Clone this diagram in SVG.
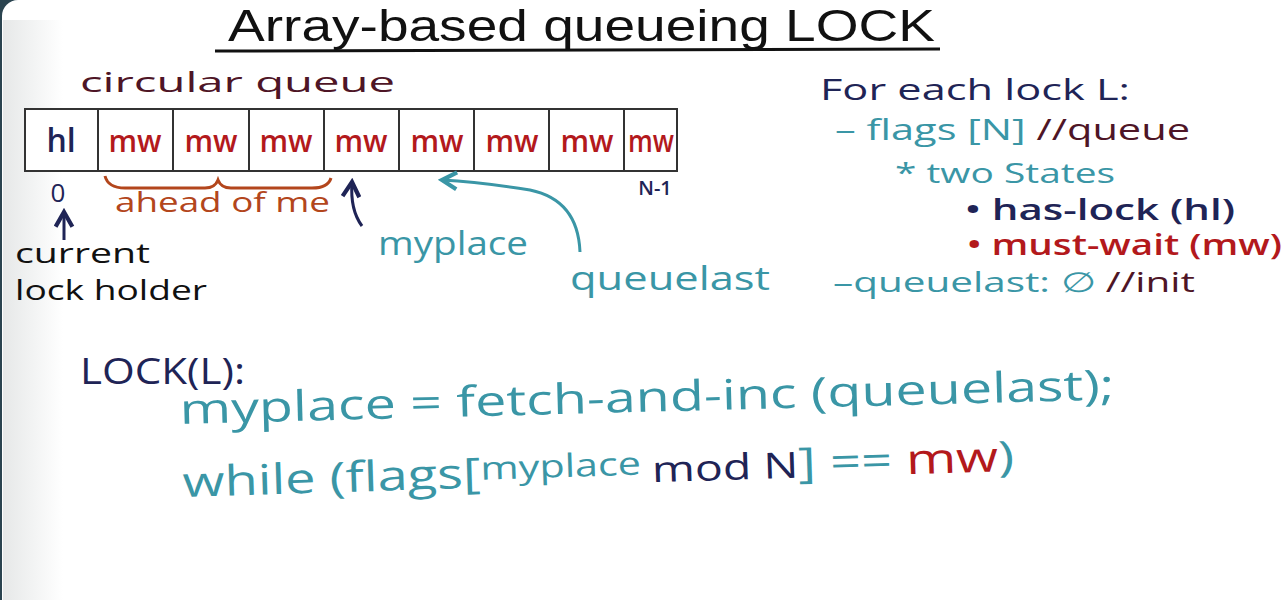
<svg xmlns="http://www.w3.org/2000/svg" width="1282" height="600" viewBox="0 0 1282 600">
<defs>
<style>
text{font-family:"Open Sans","Liberation Sans",sans-serif;}
.navy{fill:#1f2456;}
.red{fill:#b3191c;}
.teal{fill:#3a96a6;}
.maroon{fill:#4e1526;}
.brown{fill:#b3461c;}
.blk{fill:#111;}
.cell{fill:#fff;stroke:#333;stroke-width:2;}
.mw{font-size:30px;fill:#b3191c;font-weight:600;}
</style>
<linearGradient id="edge" x1="0" x2="1" y1="0" y2="0">
<stop offset="0" stop-color="#e6e8e8"/>
<stop offset="1" stop-color="#ffffff"/>
</linearGradient>
<marker id="ahNavy" viewBox="0 0 10 10" refX="8" refY="5" markerWidth="7" markerHeight="7" orient="auto">
<path d="M1,1 L8,5 L1,9" fill="none" stroke="#1f2456" stroke-width="2"/>
</marker>
<marker id="ahTeal" viewBox="0 0 10 10" refX="8" refY="5" markerWidth="7" markerHeight="7" orient="auto">
<path d="M1,1 L8,5 L1,9" fill="none" stroke="#3a96a6" stroke-width="2"/>
</marker>
</defs>
<rect x="0" y="0" width="1282" height="600" fill="#2b4450"/>
<rect x="2" y="0" width="1300" height="640" rx="16" fill="#fff"/>
<rect x="3" y="20" width="60" height="600" fill="url(#edge)"/>

<g id="title">
<text x="228" y="41" font-size="44" class="blk" style="font-family:'Liberation Sans',sans-serif" textLength="707" lengthAdjust="spacingAndGlyphs">Array-based queueing LOCK</text>
<line x1="215" y1="51" x2="940" y2="49" stroke="#111" stroke-width="3"/>
</g>

<g id="label-circular">
<text x="80" y="92" font-size="28" class="maroon" textLength="315" lengthAdjust="spacingAndGlyphs">circular queue</text>
</g>

<g id="array">
<rect class="cell" x="25" y="109" width="652" height="62"/>
<g stroke="#333" stroke-width="2">
<line x1="98" y1="109" x2="98" y2="171"/>
<line x1="173" y1="109" x2="173" y2="171"/>
<line x1="249" y1="109" x2="249" y2="171"/>
<line x1="324" y1="109" x2="324" y2="171"/>
<line x1="399" y1="109" x2="399" y2="171"/>
<line x1="474" y1="109" x2="474" y2="171"/>
<line x1="549" y1="109" x2="549" y2="171"/>
<line x1="624" y1="109" x2="624" y2="171"/>
</g>
<text x="61" y="152" font-size="32" class="navy" text-anchor="middle" font-weight="600">hl</text>
<text x="135" y="152" class="mw" text-anchor="middle">mw</text>
<text x="211" y="152" class="mw" text-anchor="middle">mw</text>
<text x="286" y="152" class="mw" text-anchor="middle">mw</text>
<text x="361" y="152" class="mw" text-anchor="middle">mw</text>
<text x="437" y="152" class="mw" text-anchor="middle">mw</text>
<text x="512" y="152" class="mw" text-anchor="middle">mw</text>
<text x="587" y="152" class="mw" text-anchor="middle">mw</text>
<text x="651" y="152" class="mw" text-anchor="middle" textLength="46" lengthAdjust="spacingAndGlyphs">mw</text>
</g>

<g id="index-0">
<text x="58" y="202" font-size="26" class="navy" text-anchor="middle">0</text>
</g>
<g id="index-n1">
<text x="655" y="195" font-size="20" class="navy" text-anchor="middle" font-weight="600">N-1</text>
</g>

<g id="current-lock-holder">
<text x="15" y="263" font-size="28" class="blk" textLength="135" lengthAdjust="spacingAndGlyphs">current</text>
<text x="15" y="300" font-size="28" class="blk" textLength="192" lengthAdjust="spacingAndGlyphs">lock holder</text>
</g>

<g id="ahead-of-me">
<path d="M105,176 Q108,188 125,188 L205,188 Q215,188 218,180 Q221,188 231,188 L312,188 Q328,188 331,178" fill="none" stroke="#b3461c" stroke-width="3"/>
<text x="115" y="212" font-size="28" class="brown" textLength="215" lengthAdjust="spacingAndGlyphs">ahead of me</text>
</g>

<g id="myplace-label">
<text x="378" y="255" font-size="32" class="teal" textLength="150" lengthAdjust="spacingAndGlyphs">myplace</text>
</g>
<g id="queuelast-label">
<text x="570" y="290" font-size="32" class="teal" textLength="200" lengthAdjust="spacingAndGlyphs">queuelast</text>
</g>

<g id="connectors" fill="none" stroke-width="3">
<line x1="64" y1="240" x2="64" y2="212" stroke="#1f2456" marker-end="url(#ahNavy)"/>
<path d="M362,226 Q350,210 352,182" stroke="#1f2456" marker-end="url(#ahNavy)"/>
<path d="M580,252 Q578,200 530,190 Q480,182 442,180" stroke="#3a96a6" marker-end="url(#ahTeal)"/>
</g>

<g id="for-each-lock">
<text x="820" y="100" font-size="30" class="navy" textLength="310" lengthAdjust="spacingAndGlyphs">For each lock L:</text>
<text x="835" y="140" font-size="30" class="teal" textLength="355" lengthAdjust="spacingAndGlyphs"><tspan>– flags [N] </tspan><tspan class="maroon">//queue</tspan></text>
<text x="895" y="183" font-size="28" class="teal" textLength="220" lengthAdjust="spacingAndGlyphs">* two States</text>
<text x="965" y="220" font-size="28" class="navy" font-weight="600" textLength="270" lengthAdjust="spacingAndGlyphs">• has-lock (hl)</text>
<text x="967" y="255" font-size="28" class="red" font-weight="600" textLength="315" lengthAdjust="spacingAndGlyphs">• must-wait (mw)</text>
<text x="833" y="292" font-size="28" class="teal" textLength="362" lengthAdjust="spacingAndGlyphs"><tspan>–queuelast: ∅ </tspan><tspan class="maroon">//init</tspan></text>
</g>

<g id="lock-code">
<text x="80" y="384" font-size="36" class="navy" textLength="165" lengthAdjust="spacingAndGlyphs">LOCK(L):</text>
<text x="180" y="424" font-size="42" class="teal" textLength="935" lengthAdjust="spacingAndGlyphs" transform="rotate(-1.5 180 424)">myplace = fetch-and-inc (queuelast);</text>
<text x="183" y="497" font-size="42" class="teal" textLength="832" lengthAdjust="spacingAndGlyphs" transform="rotate(-1.8 183 497)"><tspan>while (flags[</tspan><tspan font-size="32" dy="-8">myplace </tspan><tspan class="navy" dy="8" font-size="36">mod N</tspan><tspan>] == </tspan><tspan class="red">mw</tspan><tspan>)</tspan></text>
</g>
</svg>
